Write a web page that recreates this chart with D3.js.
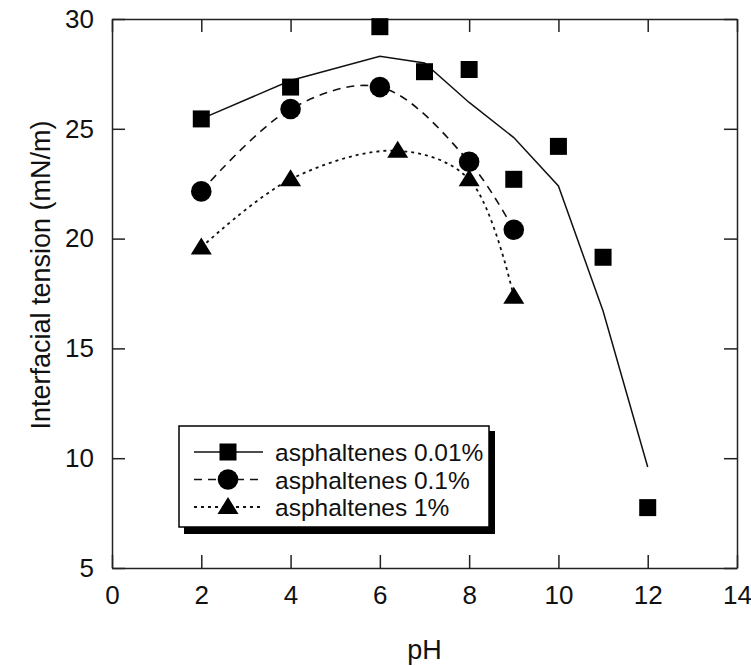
<!DOCTYPE html>
<html>
<head>
<meta charset="utf-8">
<script src="https://cdn.jsdelivr.net/npm/d3@7"></script>
<style>
  body { margin: 0; background: #fff; }
  svg { display: block; font-family: "Liberation Sans", Arial, sans-serif; }
</style>
</head>
<body>
<div id="chart"></div>
<script>
// measured points, pH vs interfacial tension (mN/m)
var phSquare = [2, 4, 6, 7, 8, 9, 10, 11, 12];
var istSquare = [25.45, 26.9, 29.65, 27.6, 27.7, 22.7, 24.2, 19.15, 7.75];

var phCircle = [2, 4, 6, 8, 9];
var istCircle = [22.15, 25.9, 26.9, 23.5, 20.4];

var phTriangle = [2, 4, 6.4, 8, 9];
var istTriangle = [19.6, 22.7, 24.0, 22.7, 17.35];

// model curve for 0.01% (drawn as polyline)
var phFit = [2, 4, 6, 7, 8, 9, 10, 11, 12];
var istFit = [25.45, 27.2, 28.3, 28.0, 26.2, 24.6, 22.4, 16.7, 9.6];

var legendLabels = ["asphaltenes 0.01%", "asphaltenes 0.1%", "asphaltenes 1%"];
var xTicks = [0, 2, 4, 6, 8, 10, 12, 14];
var yTicks = [5, 10, 15, 20, 25, 30];

var width = 751, height = 666;
var svg = d3.select("#chart").append("svg")
  .attr("width", width)
  .attr("height", height);

var x = d3.scaleLinear().domain([0, 14]).range([112, 737]);
var y = d3.scaleLinear().domain([5, 30]).range([568, 19]);

var zip = function (a, b) { return a.map(function (v, i) { return [v, b[i]]; }); };

// axes, ticks pointing inward on all four sides
var gLeft = svg.append("g").attr("transform", "translate(" + x(0) + ",0)")
  .call(d3.axisLeft(y).tickValues(yTicks).tickSizeInner(-13).tickSizeOuter(0).tickPadding(18));
var gBottom = svg.append("g").attr("transform", "translate(0," + y(5) + ")")
  .call(d3.axisBottom(x).tickValues(xTicks).tickSizeInner(-13).tickSizeOuter(0).tickPadding(18));
var gRight = svg.append("g").attr("transform", "translate(" + x(14) + ",0)")
  .call(d3.axisRight(y).tickValues(yTicks).tickSizeInner(-13).tickSizeOuter(0).tickFormat(""));
var gTop = svg.append("g").attr("transform", "translate(0," + y(30) + ")")
  .call(d3.axisTop(x).tickValues(xTicks).tickSizeInner(-13).tickSizeOuter(0).tickFormat(""));

[gLeft, gBottom, gRight, gTop].forEach(function (g) {
  g.selectAll("path, line").attr("stroke", "#222").attr("stroke-width", 1.5);
  g.selectAll("text").attr("font-size", 26).attr("fill", "#111")
    .attr("font-family", "'Liberation Sans', Arial, sans-serif");
});

// axis titles
svg.append("text")
  .attr("transform", "translate(50," + 275 + ") rotate(-90)")
  .attr("text-anchor", "middle")
  .attr("font-size", 27)
  .attr("fill", "#111")
  .text("Interfacial tension (mN/m)");

svg.append("text")
  .attr("x", (x(0) + x(14)) / 2)
  .attr("y", 659)
  .attr("text-anchor", "middle")
  .attr("font-size", 27)
  .attr("fill", "#111")
  .text("pH");

// curves
var line = d3.line().x(function (d) { return x(d[0]); }).y(function (d) { return y(d[1]); });
var smooth = d3.line().curve(d3.curveCatmullRom.alpha(0.5))
  .x(function (d) { return x(d[0]); }).y(function (d) { return y(d[1]); });

var styles = [
  { dash: null, width: 1.5 },
  { dash: "8,6", width: 1.6 },
  { dash: "3,4", width: 1.8 }
];

svg.append("path").datum(zip(phFit, istFit))
  .attr("d", line).attr("fill", "none").attr("stroke", "#111").attr("stroke-width", styles[0].width);
svg.append("path").datum(zip(phCircle, istCircle))
  .attr("d", smooth).attr("fill", "none").attr("stroke", "#111")
  .attr("stroke-width", styles[1].width).attr("stroke-dasharray", styles[1].dash);
svg.append("path").datum(zip(phTriangle, istTriangle))
  .attr("d", smooth).attr("fill", "none").attr("stroke", "#111")
  .attr("stroke-width", styles[2].width).attr("stroke-dasharray", styles[2].dash);

// marker shapes
function squarePath(cx, cy) { return "M" + (cx - 8.5) + "," + (cy - 8.5) + "h17v17h-17Z"; }
function trianglePath(cx, cy) {
  return "M" + cx + "," + (cy - 10) + "L" + (cx + 10.5) + "," + (cy + 7) + "L" + (cx - 10.5) + "," + (cy + 7) + "Z";
}

svg.append("g").selectAll("path").data(zip(phSquare, istSquare)).join("path")
  .attr("d", function (d) { return squarePath(x(d[0]), y(d[1])); }).attr("fill", "#000");
svg.append("g").selectAll("circle").data(zip(phCircle, istCircle)).join("circle")
  .attr("cx", function (d) { return x(d[0]); }).attr("cy", function (d) { return y(d[1]); })
  .attr("r", 10.3).attr("fill", "#000");
svg.append("g").selectAll("path").data(zip(phTriangle, istTriangle)).join("path")
  .attr("d", function (d) { return trianglePath(x(d[0]), y(d[1])); }).attr("fill", "#000");

// legend with drop shadow
var lg = svg.append("g");
lg.append("rect").attr("x", 184).attr("y", 431).attr("width", 311).attr("height", 103).attr("fill", "#000");
lg.append("rect").attr("x", 179).attr("y", 426).attr("width", 310).attr("height", 101)
  .attr("fill", "#fff").attr("stroke", "#000").attr("stroke-width", 1.5);

var rowY = [452, 479.5, 507];
legendLabels.forEach(function (label, i) {
  var cy = rowY[i];
  lg.append("line").attr("x1", 194).attr("x2", 263).attr("y1", cy).attr("y2", cy)
    .attr("stroke", "#111").attr("stroke-width", styles[i].width)
    .attr("stroke-dasharray", styles[i].dash);
  if (i === 0) lg.append("path").attr("d", squarePath(228, cy)).attr("fill", "#000");
  if (i === 1) lg.append("circle").attr("cx", 228).attr("cy", cy).attr("r", 10.3).attr("fill", "#000");
  if (i === 2) lg.append("path").attr("d", trianglePath(228, cy)).attr("fill", "#000");
  lg.append("text").attr("x", 275).attr("y", cy + 9)
    .attr("font-size", 24.5).attr("fill", "#111").text(label);
});
</script>
</body>
</html>
